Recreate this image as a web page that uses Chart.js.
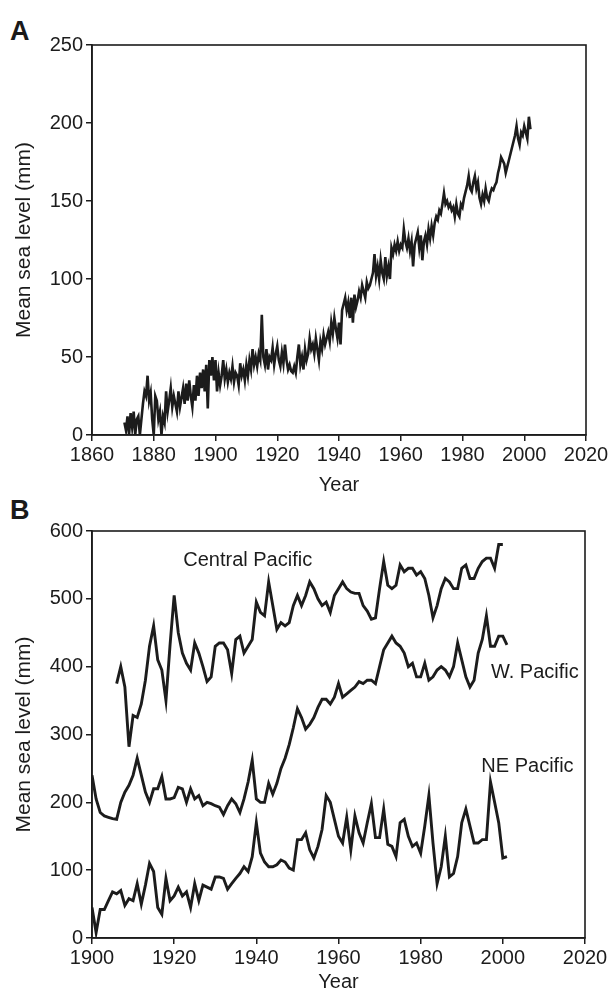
<!DOCTYPE html>
<html>
<head>
<meta charset="utf-8">
<script src="https://cdn.jsdelivr.net/npm/chart.js@4/dist/chart.umd.min.js"></script>
<style>
  body { margin: 0; background: #fff; width: 612px; height: 1004px; position: relative; overflow: hidden; }
  .panel { position: absolute; left: 0; width: 612px; }
  .letter { position: absolute; left: 10px; font: bold 27px "Liberation Sans", Arial, sans-serif; color: #1a1a1a; }
</style>
</head>
<body>
<div class="letter" style="top:16px">A</div>
<div class="letter" style="top:495px">B</div>
<div class="panel" style="top:0; height:500px"><canvas id="chartA"></canvas></div>
<div class="panel" style="top:495px; height:509px"><canvas id="chartB"></canvas></div>
<script>
// Panel A: global mean sea level, half-year readings from 1870.5 to 2002
const startA = 1870.5;
const seaLevelA = [
  8, 3, 12, 0, 14, 5, 15, 0, 10, 12, 0, 10, 20, 28, 25, 38, 22, 27, 10, 0,
  25, 22, 10, 15, 0, 12, 8, 28, 15, 22, 30, 18, 25, 20, 15, 28, 18, 24, 30, 20,
  33, 22, 35, 25, 18, 32, 22, 38, 25, 40, 30, 42, 28, 45, 17, 48, 38, 50, 35, 48,
  28, 40, 32, 38, 48, 36, 42, 34, 40, 36, 44, 34, 40, 38, 32, 46, 38, 42, 35, 45,
  38, 48, 42, 55, 45, 50, 44, 52, 48, 77, 50, 45, 55, 42, 50, 48, 56, 45, 52, 57,
  48, 44, 53, 46, 58, 48, 42, 45, 41, 40, 44, 40, 50, 58, 45, 50, 42, 55, 48, 52,
  62, 55, 58, 52, 62, 55, 48, 60, 55, 64, 58, 62, 66, 60, 72, 65, 75, 68, 62, 72,
  58, 80, 84, 88, 80, 85, 75, 88, 72, 90, 82, 86, 92, 88, 96, 92, 88, 98, 94, 96,
  100, 104, 116, 102, 108, 100, 112, 104, 100, 114, 102, 108, 100, 120, 116, 122, 118, 124, 118, 122,
  120, 132, 124, 120, 126, 118, 124, 108, 122, 126, 130, 120, 128, 112, 124, 128, 122, 132, 126, 134,
  128, 136, 140, 138, 144, 142, 148, 155, 148, 150, 146, 148, 144, 146, 140, 148, 142, 140, 148, 146,
  152, 156, 160, 166, 158, 156, 162, 166, 158, 162, 152, 148, 154, 150, 158, 152, 150, 155, 158, 157,
  160, 162, 168, 172, 178, 176, 174, 168, 172, 176, 180, 184, 188, 192, 198, 190, 186, 194, 192, 198,
  194, 190, 204, 196
];
const yTicksA = [0, 50, 100, 150, 200, 250];
const xTicksA = [1860, 1880, 1900, 1920, 1940, 1960, 1980, 2000, 2020];

// Panel B: regional Pacific sea level, yearly
const yearsB = [];
for (let y = 1900; y <= 2001; y++) yearsB.push(y);
const centralPacific = [
  null, null, null, null, null, null,
  375, 400, 370, 282, 328, 325, 345, 380, 430, 460, 410, 395, 350, 432,
  505, 450, 420, 405, 395, 435, 420, 400, 378, 385, 430, 435, 435, 425,
  390, 440, 445, 420, 430, 440, 495, 480, 475, 525, 490, 455, 465, 460,
  465, 490, 505, 490, 505, 525, 515, 500, 490, 495, 480, 505, 515, 525,
  515, 510, 508, 508, 490, 482, 470, 472, 515, 555, 520, 515, 520, 550,
  540, 545, 545, 535, 540, 530, 505, 472, 490, 515, 530, 525, 515, 515,
  545, 550, 530, 530, 545, 555, 560, 560, 545, 580, 580, null
];
const westPacific = [
  240, 205, 185, 180, 178, 176, 175, 200, 215, 225, 240, 265, 240, 215,
  200, 220, 220, 238, 205, 205, 207, 222, 220, 200, 220, 205, 210, 195,
  200, 198, 195, 193, 182, 195, 205, 198, 185, 205, 230, 262, 205, 200,
  200, 228, 212, 228, 250, 265, 285, 310, 338, 325, 308, 315, 325, 340,
  352, 352, 345, 355, 375, 355, 360, 365, 370, 378, 375, 380, 380, 375,
  400, 425, 435, 445, 435, 430, 420, 400, 405, 385, 385, 405, 380, 385,
  395, 400, 395, 385, 400, 435, 410, 385, 370, 380, 420, 440, 475, 430,
  430, 445, 445, 432
];
const nePacific = [
  45, 8, 42, 42, 55, 68, 65, 70, 48, 58, 55, 80, 50, 78, 110, 98, 45, 35,
  88, 55, 62, 75, 62, 68, 45, 80, 55, 78, 75, 72, 90, 90, 88, 72, 80, 88,
  95, 105, 98, 120, 170, 125, 112, 105, 105, 108, 115, 112, 103, 100, 145, 145,
  155, 130, 118, 135, 160, 210, 200, 175, 150, 140, 178, 130, 180, 155, 140, 170,
  198, 148, 148, 190, 138, 135, 120, 170, 175, 150, 135, 140, 125, 165, 210, 140,
  80, 105, 150, 90, 95, 120, 170, 190, 165, 140, 140, 145, 145, 230, 200, 170,
  118, 120
];
const yTicksB = [0, 100, 200, 300, 400, 500, 600];
const xTicksB = [1900, 1920, 1940, 1960, 1980, 2000, 2020];
const seriesNamesB = ["Central Pacific", "W. Pacific", "NE Pacific"];
// where each name sits, in data units
const nameAnchorsB = [[1937.9, 557], [2007.8, 392], [2006, 253]];

const ink = "#1c1c1c";
const font = "'Liberation Sans', Arial, sans-serif";

const framePlugin = {
  id: "frame",
  afterDraw(chart) {
    const a = chart.chartArea, ctx = chart.ctx;
    ctx.save();
    ctx.strokeStyle = ink;
    ctx.lineWidth = 1.6;
    ctx.strokeRect(a.left, a.top, a.right - a.left, a.bottom - a.top);
    ctx.restore();
  }
};

const namesPlugin = {
  id: "names",
  afterDraw(chart) {
    const ctx = chart.ctx, xs = chart.scales.x, ys = chart.scales.y;
    ctx.save();
    ctx.fillStyle = ink;
    ctx.font = "20px " + font;
    ctx.textAlign = "center";
    ctx.textBaseline = "middle";
    seriesNamesB.forEach((n, i) => {
      ctx.fillText(n, xs.getPixelForValue(nameAnchorsB[i][0]), ys.getPixelForValue(nameAnchorsB[i][1]));
    });
    ctx.restore();
  }
};

function axes(xTicks, yTicks, xHeight, xTitlePad, yMax) {
  return {
    x: {
      type: "linear", min: xTicks[0], max: xTicks[xTicks.length - 1],
      afterBuildTicks: s => { s.ticks = xTicks.map(v => ({ value: v })); },
      afterFit: s => { s.height = xHeight; },
      grid: { display: true, drawOnChartArea: false, tickLength: 6, color: ink, lineWidth: 1.5 },
      border: { color: ink, width: 1.6 },
      ticks: { color: ink, font: { size: 20, family: font }, padding: 2, maxRotation: 0, callback: v => String(v) },
      title: { display: true, text: "Year", color: ink, font: { size: 20, family: font }, padding: xTitlePad }
    },
    y: {
      min: 0, max: yMax,
      afterBuildTicks: s => { s.ticks = yTicks.map(v => ({ value: v })); },
      afterFit: s => { s.width = 92; },
      grid: { display: true, drawOnChartArea: false, tickLength: 6, color: ink, lineWidth: 1.5 },
      border: { color: ink, width: 1.6 },
      ticks: { color: ink, font: { size: 20, family: font }, padding: 3, callback: v => String(v) },
      title: { display: true, text: "Mean sea level (mm)", color: ink, font: { size: 21, family: font }, padding: { top: 12, bottom: 0 } }
    }
  };
}

const common = {
  responsive: true,
  maintainAspectRatio: false,
  animation: false,
  plugins: { legend: { display: false }, tooltip: { enabled: false } },
  elements: { point: { radius: 0 } }
};

new Chart("chartA", {
  type: "line",
  data: {
    datasets: [{
      data: seaLevelA.map((v, i) => ({ x: startA + i * 0.5, y: v })),
      borderColor: ink,
      borderWidth: 2.6,
      tension: 0,
      fill: false
    }]
  },
  options: Object.assign({}, common, {
    layout: { padding: { left: 0, right: 26, top: 45, bottom: 0 } },
    scales: axes(xTicksA, yTicksA, 65, { top: 0, bottom: 3 }, 250)
  }),
  plugins: [framePlugin]
});

new Chart("chartB", {
  type: "line",
  data: {
    datasets: [centralPacific, westPacific, nePacific].map(arr => ({
      data: arr.map((v, i) => ({ x: yearsB[i], y: v })),
      borderColor: ink,
      borderWidth: 2.9,
      tension: 0,
      fill: false,
      spanGaps: false
    }))
  },
  options: Object.assign({}, common, {
    layout: { padding: { left: 0, right: 27, top: 36, bottom: 0 } },
    scales: axes(xTicksB, yTicksB, 66, { top: 0, bottom: 10 }, 600)
  }),
  plugins: [framePlugin, namesPlugin]
});
</script>
</body>
</html>
